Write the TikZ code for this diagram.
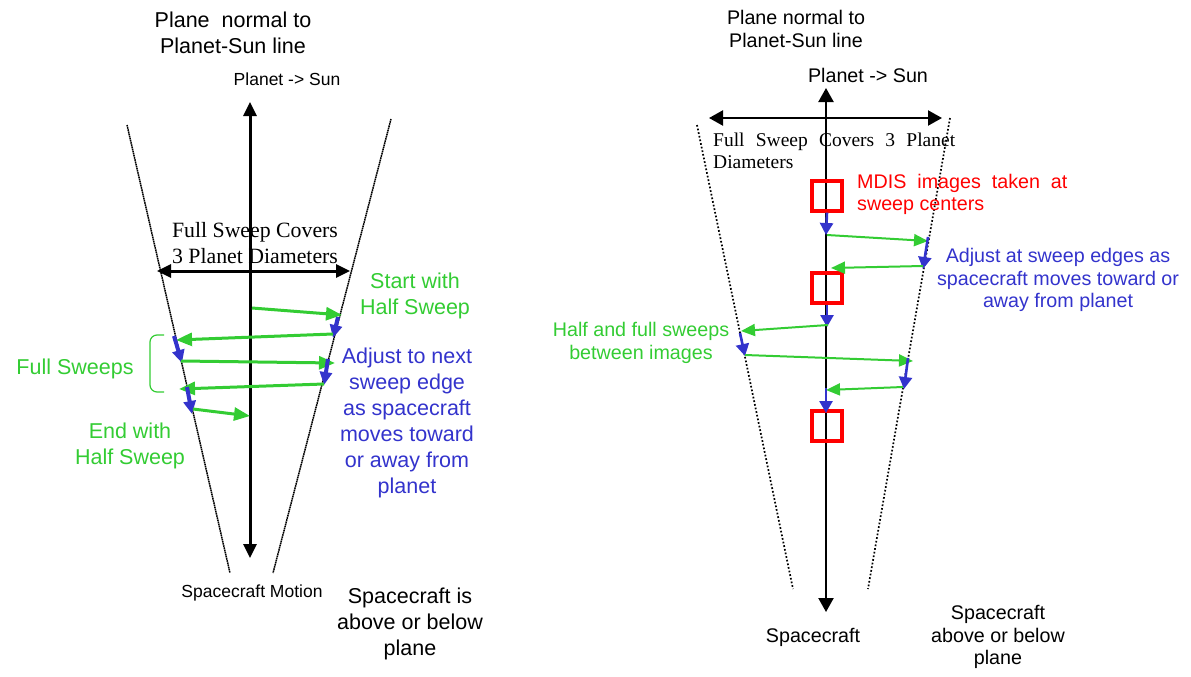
\documentclass[tikz,border=0pt]{standalone}
\usepackage{fontspec}
\setmainfont{Liberation Sans}
\newfontfamily\timesf{Liberation Serif}
\usetikzlibrary{arrows.meta}
\definecolor{sgreen}{RGB}{51,204,51}
\definecolor{sblue}{RGB}{51,51,204}
\definecolor{sred}{RGB}{255,0,0}
\tikzset{
  axisL/.style={line width=3pt,{Triangle[length=14pt,width=13pt]}-{Triangle[length=14pt,width=13pt]}},
  axisR/.style={line width=2.2pt,{Triangle[length=14pt,width=15pt]}-{Triangle[length=14pt,width=15pt]}},
  bound/.style={line width=1.5pt,dash pattern=on 1.6pt off 0.6pt},
  boundR/.style={line width=1.7pt,dotted},
  gArrL/.style={sgreen,line width=3pt,-{Triangle[length=16pt,width=13pt]}},
  bArrL/.style={sblue,line width=4pt,-{Triangle[length=13pt,width=12pt]}},
  gArrR/.style={sgreen,line width=2pt,-{Triangle[length=14pt,width=12pt]}},
  bArrR/.style={sblue,line width=2.6pt,-{Triangle[length=12pt,width=13pt]}},
  imgbox/.style={draw=sred,line width=3.2pt,minimum width=30pt,minimum height=30pt,inner sep=0pt},
  bigtxt/.style={font=\fontsize{21.5}{26}\selectfont,align=center,inner sep=0pt},
  smalltxt/.style={font=\fontsize{17.5}{21}\selectfont,align=center,inner sep=0pt},
  rtxt/.style={font=\fontsize{19.7}{22.5}\selectfont,align=center,inner sep=0pt},
}
\begin{document}
\begin{tikzpicture}[x=1pt,y=-1pt]
\useasboundingbox (0,0) rectangle (1191,677);
% ================= LEFT DIAGRAM =================
\node[bigtxt] (lplane) at (233,33) {Plane\ \ normal to\\Planet-Sun line};
\node[smalltxt] (lps) at (287,79) {Planet -> Sun};
\coordinate (laxT) at (250,102);
\coordinate (laxB) at (250,558);
\draw[axisL] (laxB) -- (laxT);
\coordinate (lb1t) at (127,125); \coordinate (lb1b) at (230,573);
\coordinate (lb2t) at (391,119); \coordinate (lb2b) at (273,573);
\draw[bound] (lb1t) -- (lb1b);
\draw[bound] (lb2t) -- (lb2b);
\node[font=\timesf\fontsize{21.8}{26}\selectfont,align=center,inner sep=0pt] (lfull) at (255,243) {Full Sweep Covers\\3 Planet Diameters};
\coordinate (lhA) at (157,271); \coordinate (lhB) at (350,271);
\draw[axisL] (lhA) -- (lhB);
% sweeps
\coordinate (s0) at (252,308);
\coordinate (s1) at (342,315);
\coordinate (s1a) at (338,317);
\coordinate (s2) at (333,338);
\coordinate (s2a) at (333,334);
\coordinate (s3) at (176,340);
\coordinate (s3a) at (174,336);
\coordinate (s4) at (182,363);
\coordinate (s4a) at (181,361);
\coordinate (s5) at (335,363);
\coordinate (s5a) at (328,359);
\coordinate (s6) at (324,385);
\coordinate (s6a) at (324,384);
\coordinate (s7) at (179,389);
\coordinate (s7a) at (187,387);
\coordinate (s8) at (192,414);
\coordinate (s8a) at (193,409);
\coordinate (s9) at (250,416);
\draw[gArrL] (s0) -- (s1);
\draw[bArrL] (s1a) -- (s2);
\draw[gArrL] (s2a) -- (s3);
\draw[bArrL] (s3a) -- (s4);
\draw[gArrL] (s4a) -- (s5);
\draw[bArrL] (s5a) -- (s6);
\draw[gArrL] (s6a) -- (s7);
\draw[bArrL] (s7a) -- (s8);
\draw[gArrL] (s8a) -- (s9);
% bracket
\coordinate (brT) at (164,335); \coordinate (brB) at (164,392);
\draw[sgreen,line width=1.2pt,rounded corners=7pt] (brT) -- (150,335) -- (150,392) -- (brB);
\node[bigtxt,text=sgreen] (lfs) at (75,369) {Full Sweeps};
\node[bigtxt,text=sgreen] (lstart) at (415,296) {Start with\\Half Sweep};
\node[bigtxt,text=sgreen] (lend) at (130,446) {End with\\Half Sweep};
\node[bigtxt,text=sblue] (ladj) at (407,423) {Adjust to next\\sweep edge\\as spacecraft\\moves toward\\or away from\\planet};
\node[smalltxt] (lsm) at (252,593) {Spacecraft Motion};
\node[bigtxt] (labove) at (410,624) {Spacecraft is\\above or below\\plane};
% ================= RIGHT DIAGRAM =================
\node[rtxt] (rplane) at (796,29) {Plane normal to\\Planet-Sun line};
\node[rtxt] (rps) at (868,75) {Planet -> Sun};
\coordinate (raxT) at (826,88);
\coordinate (raxB) at (826,612);
\coordinate (rhA) at (709,118); \coordinate (rhB) at (942,118);
\coordinate (rb1t) at (697,125); \coordinate (rb1b) at (793,589);
\coordinate (rb2t) at (950,118); \coordinate (rb2b) at (868,589);
\draw[boundR] (rb1t) -- (rb1b);
\draw[boundR] (rb2t) -- (rb2b);
\draw[axisR] (raxB) -- (raxT);
\draw[axisR] (rhA) -- (rhB);
\node[font=\timesf\fontsize{19.5}{22}\selectfont,align=left,inner sep=0pt,anchor=north west] (rfull) at (713,133)
  {\hbox to 242pt{Full\hfill Sweep\hfill Covers\hfill 3\hfill Planet}\\Diameters};
\node[imgbox] (box1) at (827,196) {};
\node[imgbox] (box2) at (827,288) {};
\node[imgbox] (box3) at (827,426) {};
\node[rtxt,align=left,anchor=north west,text=sred] (rmdis) at (857,174) {MDIS\ \ images\ \ taken\ \ at\\sweep centers};
\node[rtxt,text=sblue] (radj) at (1058,280) {Adjust at sweep edges as\\spacecraft moves toward or\\away from planet};
\node[rtxt,text=sgreen] (rhalf) at (641,343) {Half and full sweeps\\between images};
\node[rtxt] (rsc) at (813,637) {Spacecraft};
\node[rtxt] (rabove) at (998,637) {Spacecraft\\above or below\\plane};
% right sweeps
\coordinate (t1) at (826,235);
\coordinate (t1a) at (827,235);
\coordinate (t2) at (928,241);
\coordinate (t2a) at (928,237);
\coordinate (t3) at (923,269);
\coordinate (t3a) at (923,266);
\coordinate (t4) at (831,268);
\coordinate (t5) at (827,327);
\coordinate (t5a) at (828,325);
\coordinate (t6) at (741,331);
\coordinate (t6a) at (740,333);
\coordinate (t7) at (745,356);
\coordinate (t7a) at (745,355);
\coordinate (t8) at (913,361);
\coordinate (t8a) at (908,358);
\coordinate (t9) at (904,389);
\coordinate (t9a) at (903,387);
\coordinate (t10) at (826,390);
\coordinate (t10a) at (826,388);
\coordinate (t11) at (826,413);
\draw[bArrR] (box1.south) -- (t1);
\draw[gArrR] (t1a) -- (t2);
\draw[bArrR] (t2a) -- (t3);
\draw[gArrR] (t3a) -- (t4);
\draw[bArrR] (box2.south) -- (t5);
\draw[gArrR] (t5a) -- (t6);
\draw[bArrR] (t6a) -- (t7);
\draw[gArrR] (t7a) -- (t8);
\draw[bArrR] (t8a) -- (t9);
\draw[gArrR] (t9a) -- (t10);
\draw[bArrR] (t10a) -- (t11);
\end{tikzpicture}
\end{document}
